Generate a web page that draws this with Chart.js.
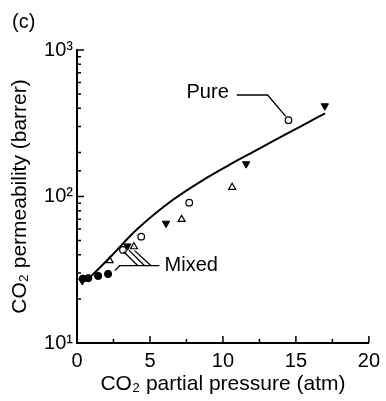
<!DOCTYPE html>
<html lang="en">
<head>
  <meta charset="UTF-8" />
  <title>CO2 permeability vs partial pressure</title>
  <style>
    body { margin: 0; background: #fff; }
    .chart-box { width: 386px; height: 401px; position: relative; }
  </style>
</head>
<body>
  <div class="chart-box"><canvas id="permChart"></canvas></div>

  <script src="https://cdn.jsdelivr.net/npm/chart.js"></script>
  <script>
    // model curve (pure gas)
    const curveX = [0.85, 2.24, 4.06, 6.55, 8.82, 10.41, 12.33, 13.81, 15.5, 17];
    const curveY = [27.8, 38.2, 59, 94.6, 133, 164, 208, 250, 307, 370];

    // measured points, one list per symbol
    const openCircleX = [3.15, 4.4, 7.69, 14.49];
    const openCircleY = [43.2, 53.2, 90.8, 332];
    const filledDownX = [0.36, 3.45, 6.1, 11.59, 16.98];
    const filledDownY = [26.6, 45.9, 65.6, 167, 415];
    const openUpX = [2.24, 3.9, 7.17, 10.63];
    const openUpY = [36.5, 45.4, 69.8, 115.6];
    const filledCircleX = [0.4, 0.77, 1.45, 2.13];
    const filledCircleY = [27.5, 27.7, 28.7, 29.6];

    // tick labels
    const xLabelStep = 5;
    const yPowers = [10, 100, 1000];
    const yPowerLabels = ['10¹', '10²', '10³'];

    const FONT = "'Liberation Sans', Arial, sans-serif";
    const pts = (xs, ys) => xs.map((x, i) => ({ x: x, y: ys[i] }));

    // leader lines for the annotations (data coordinates)
    const pureLeader = [[10.95, 493], [13.06, 493], [14.3, 352]];
    const mixedLeaders = [
      [[5.65, 33.7], [2.93, 33.7], [2.59, 31.2]],
      [[3.2, 42.0], [4.17, 33.7]],
      [[3.54, 43.2], [4.63, 33.7]],
      [[3.95, 42.7], [5.08, 33.7]]
    ];

    const isPower = v => {
      const lg = Math.log10(v);
      return Math.abs(lg - Math.round(lg)) < 1e-6;
    };

    const extras = {
      id: 'extras',
      afterDraw(chart) {
        const { ctx, chartArea: a, scales: { x, y } } = chart;
        ctx.save();
        ctx.strokeStyle = '#000';

        // inward tick marks
        ctx.lineWidth = 1.5;
        ctx.beginPath();
        x.ticks.forEach(t => {
          const px = x.getPixelForValue(t.value);
          const len = t.value % xLabelStep === 0 ? 7 : 4;
          ctx.moveTo(px, a.bottom);
          ctx.lineTo(px, a.bottom - len);
        });
        y.ticks.forEach(t => {
          const py = y.getPixelForValue(t.value);
          const len = isPower(t.value) ? 7 : 4;
          ctx.moveTo(a.left, py);
          ctx.lineTo(a.left + len, py);
        });
        ctx.stroke();

        // leaders
        ctx.lineWidth = 1.3;
        [pureLeader].concat(mixedLeaders).forEach(line => {
          ctx.beginPath();
          line.forEach((p, i) => {
            const px = x.getPixelForValue(p[0]);
            const py = y.getPixelForValue(p[1]);
            if (i === 0) ctx.moveTo(px, py); else ctx.lineTo(px, py);
          });
          ctx.stroke();
        });

        ctx.fillStyle = '#000';
        ctx.font = '20px ' + FONT;
        ctx.textBaseline = 'middle';
        ctx.textAlign = 'right';
        ctx.fillText('Pure', x.getPixelForValue(10.4), y.getPixelForValue(515));
        ctx.textAlign = 'left';
        ctx.fillText('Mixed', x.getPixelForValue(6.0), y.getPixelForValue(33.7));
        ctx.fillText('(c)', 12, 22);
        ctx.restore();
      }
    };

    const ctx = document.getElementById('permChart').getContext('2d');
    new Chart(ctx, {
      type: 'scatter',
      data: {
        datasets: [
          {
            label: 'Pure',
            data: pts(curveX, curveY),
            showLine: true,
            borderColor: '#000',
            borderWidth: 2,
            pointRadius: 0,
            cubicInterpolationMode: 'monotone'
          },
          {
            label: 'open circle',
            data: pts(openCircleX, openCircleY),
            pointStyle: 'circle',
            pointRadius: 3.3,
            backgroundColor: '#fff',
            borderColor: '#000',
            borderWidth: 1.2
          },
          {
            label: 'filled down triangle',
            data: pts(filledDownX, filledDownY),
            pointStyle: 'triangle',
            rotation: 180,
            pointRadius: 4.3,
            backgroundColor: '#000',
            borderColor: '#000',
            borderWidth: 1
          },
          {
            label: 'open up triangle',
            data: pts(openUpX, openUpY),
            pointStyle: 'triangle',
            pointRadius: 4,
            backgroundColor: '#fff',
            borderColor: '#000',
            borderWidth: 1.2
          },
          {
            label: 'filled circle',
            data: pts(filledCircleX, filledCircleY),
            pointStyle: 'circle',
            pointRadius: 3.6,
            backgroundColor: '#000',
            borderColor: '#000',
            borderWidth: 1
          }
        ]
      },
      options: {
        responsive: true,
        maintainAspectRatio: false,
        animation: false,
        layout: { padding: { top: 50, right: 15, left: 0, bottom: 0 } },
        plugins: { legend: { display: false }, tooltip: { enabled: false } },
        scales: {
          x: {
            type: 'linear',
            min: 0,
            max: 20,
            grid: { display: false, drawTicks: false },
            border: { display: true, color: '#000', width: 2 },
            ticks: {
              stepSize: 2.5,
              autoSkip: false,
              maxRotation: 0,
              padding: 6,
              color: '#000',
              font: { size: 20, family: FONT },
              callback: v => (v % xLabelStep === 0 ? String(v) : '')
            },
            title: {
              display: true,
              text: 'CO₂ partial pressure (atm)',
              color: '#000',
              font: { size: 21, family: FONT },
              padding: { top: 0, bottom: 4 }
            },
            afterFit: s => { s.height = 58; }
          },
          y: {
            type: 'logarithmic',
            min: 10,
            max: 1000,
            grid: { display: false, drawTicks: false },
            border: { display: true, color: '#000', width: 2 },
            ticks: {
              autoSkip: false,
              padding: 4,
              color: '#000',
              font: { size: 20, family: FONT },
              callback: v => {
                const i = yPowers.findIndex(p => Math.abs(p - v) < 1e-6);
                return i >= 0 ? yPowerLabels[i] : '';
              }
            },
            title: {
              display: true,
              text: 'CO₂ permeability (barrer)',
              color: '#000',
              font: { size: 21, family: FONT },
              padding: { top: 8, bottom: 0 }
            },
            afterFit: s => { s.width = 77; }
          }
        }
      },
      plugins: [extras]
    });
  </script>
</body>
</html>
